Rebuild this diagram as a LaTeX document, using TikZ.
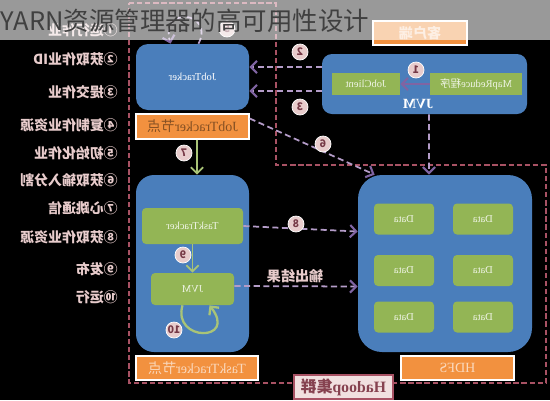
\documentclass[tikz,border=0pt]{standalone}
\usepackage{fontspec}
\usepackage{xcolor}
\usetikzlibrary{arrows.meta}
\setmainfont{Liberation Serif}
\newfontfamily\cjk{Noto Sans CJK SC}
\definecolor{boxblue}{HTML}{4A7EBB}
\definecolor{boxgreen}{HTML}{93B555}
\definecolor{boxorange}{HTML}{F2913F}
\definecolor{framepink}{HTML}{A85264}
\definecolor{dashpurple}{HTML}{B49CC8}
\definecolor{tippurple}{HTML}{8064A2}
\definecolor{listpink}{HTML}{E8CCCC}
\def\px{0.02cm}
\tikzset{
  boxsize/.style 2 args={minimum width=#1*\px,minimum height=#2*\px,inner sep=0pt},
  bluebox/.style={fill=boxblue,text=white,font=\fontsize{6}{7}\selectfont},
  greenbox/.style={fill=boxgreen,rounded corners=4*\px,text=white!85!boxgreen,font=\fontsize{6}{7}\selectfont},
  orangebox/.style={fill=boxorange,draw=white,line width=0.8pt,text=white!65!boxorange,font=\fontsize{8}{9}\selectfont},
  numcirc/.style={circle,fill=listpink,draw=white,line width=0.4pt,minimum size=16*\px,inner sep=0pt,text=framepink!70!black,font=\cjk\bfseries\fontsize{6}{7}\selectfont},
  listitem/.style={anchor=east,inner sep=0pt,text=listpink,font=\cjk\bfseries\fontsize{7.9}{9}\selectfont},
  dasharrow/.style={draw=dashpurple,line width=1pt,dash pattern=on 3.5pt off 2pt,-{Straight Barb[length=3.5pt,width=7pt,color=tippurple,line width=1.2pt]}},
  greenarrow/.style={draw=boxgreen!80!white,line width=1pt,-{Straight Barb[length=3.5pt,width=7pt]}},
}
\begin{document}
\begin{tikzpicture}[x=\px,y=-\px]
  \useasboundingbox (0,0) rectangle (550,400);
  \fill[black] (0,0) rectangle (550,400);
  % cluster frame
  \draw[framepink,line width=1.1pt,dash pattern=on 3pt off 1.6pt] (129,3)--(276,3)--(276,165)--(546,165)--(546,383)--(129,383)--cycle;
  % left list
  \node[listitem] (item1) at (118,30) {\reflectbox{①运行作业}};
  \node[listitem] (item2) at (118,59) {\reflectbox{②获取作业ID}};
  \node[listitem] (item3) at (118,92) {\reflectbox{③提交作业}};
  \node[listitem] (item4) at (118,125) {\reflectbox{④复制作业资源}};
  \node[listitem] (item5) at (118,153) {\reflectbox{⑤初始化作业}};
  \node[listitem] (item6) at (118,180) {\reflectbox{⑥获取输入分割}};
  \node[listitem] (item7) at (118,208) {\reflectbox{⑦心跳通信}};
  \node[listitem] (item8) at (118,237) {\reflectbox{⑧获取作业资源}};
  \node[listitem] (item9) at (118,269) {\reflectbox{⑨发布}};
  \node[listitem] (item10) at (118,297) {\reflectbox{⑩运行}};
  % job tracker side
  \node[bluebox,boxsize={113}{66},rounded corners=12*\px] (jobtracker) at (192.5,77) {\reflectbox{JobTracker}};
  \node[orangebox,boxsize={113}{25},text=boxorange!55!black] (jtlabel) at (192.5,126.5) {\reflectbox{JobTracker{\cjk 节点}}};
  \node[bluebox,boxsize={113}{177},rounded corners=18*\px] (ttbox) at (192.5,263.5) {};
  \node[greenbox,boxsize={101}{36}] (tasktracker) at (192.5,226) {\reflectbox{TaskTracker}};
  \node[greenbox,boxsize={83}{32}] (taskjvm) at (192.5,289) {\reflectbox{JVM}};
  \node[orangebox,boxsize={122}{24}] (ttlabel) at (197,368) {\reflectbox{TaskTracker{\cjk 节点}}};
  % hdfs side
  \node[bluebox,boxsize={174}{177},rounded corners=24*\px] (hdfsbox) at (445,263.5) {};
  \foreach \name/\cx/\cy in {dataa/404/219,datab/483/219,datac/404/270.5,datad/483/270.5,datae/404/317,dataf/483/317}
    \node[greenbox,boxsize={60}{31}] (\name) at (\cx,\cy) {\reflectbox{Data}};
  \node[orangebox,boxsize={113}{24}] (hdfslabel) at (457.5,368) {\reflectbox{HDFS}};
  \node[boxsize={99}{24},fill=listpink!60!white,draw=framepink,line width=0.8pt,text=framepink!80!black,font=\bfseries\fontsize{9}{10}\selectfont] (hadooplabel) at (343.5,387) {\reflectbox{Hadoop{\cjk 集群}}};
  % client side
  \node[orangebox,boxsize={94}{24}] (clientlabel) at (420,33) {\reflectbox{{\cjk\bfseries 客户端}}};
  \node[bluebox,boxsize={205}{60},rounded corners=10*\px] (clientjvm) at (424.5,84) {};
  \node[greenbox,boxsize={68}{22},rounded corners=0pt] (jobclient) at (366,84) {\reflectbox{JobClient}};
  \node[greenbox,boxsize={92}{22},rounded corners=0pt] (mapreduce) at (476,84) {\reflectbox{MapReduce{\cjk 程序}}};
  \node[inner sep=0pt,text=white,font=\bfseries\fontsize{8}{9}\selectfont] (jvmtext) at (418,104) {\reflectbox{JVM}};
  \node[inner sep=0pt,text=listpink,font=\cjk\bfseries\fontsize{8}{9}\selectfont] (resulttext) at (295,276) {\reflectbox{输出结果}};
  % connectors
  \draw[draw=tippurple,line width=1.2pt,-{Straight Barb[length=3.5pt,width=7pt]}] (mapreduce.west) -- (jobclient.east);
  \draw[dasharrow] ([yshift=17*\px]clientjvm.west) -- ([yshift=10*\px]jobtracker.east);
  \draw[dasharrow] ([yshift=-7*\px]clientjvm.west) -- ([yshift=-14*\px]jobtracker.east);
  \draw[dasharrow] ([yshift=8*\px]jtlabel.east) -- ([xshift=17*\px]hdfsbox.north west);
  \draw[dasharrow] ([xshift=4.5*\px]clientjvm.south) -- ([xshift=-16*\px]hdfsbox.north);
  \draw[dasharrow] (tasktracker.east) -- ([yshift=32*\px]hdfsbox.west);
  \draw[dasharrow] ([yshift=3*\px]taskjvm.east) -- ([yshift=-23*\px]hdfsbox.west);
  \draw[dasharrow] ([xshift=6*\px]jobtracker.north) .. controls (215,12) and (160,5) .. ([xshift=-22*\px]jobtracker.north);
  \draw[greenarrow] ([xshift=4.5*\px]jtlabel.south) -- ([xshift=4.5*\px]ttbox.north);
  \draw[greenarrow] (tasktracker.south) -- (taskjvm.north);
  \draw[greenarrow,line width=1.3pt] ([xshift=-10*\px]taskjvm.south) .. controls (172,342) and (238,342) .. ([xshift=17*\px]taskjvm.south);
  % step numbers
  \node[numcirc] (num1) at (416,70) {\reflectbox{1}};
  \node[numcirc] (num2) at (300,52) {\reflectbox{2}};
  \node[numcirc] (num3) at (300,107) {\reflectbox{3}};
  \node[numcirc] (num5) at (227,29) {\reflectbox{5}};
  \node[numcirc] (num6) at (323,144) {\reflectbox{6}};
  \node[numcirc] (num7) at (184,153) {\reflectbox{7}};
  \node[numcirc] (num8) at (296,224) {\reflectbox{8}};
  \node[numcirc] (num9) at (183,255) {\reflectbox{9}};
  \node[numcirc] (num10) at (174,330) {\reflectbox{10}};
  % title band
  \fill[white,fill opacity=0.6] (0,0) rectangle (550,40);
  \node[anchor=west,inner sep=0pt,text=black!75,font=\cjk\fontsize{14.5}{17}\selectfont] (title) at (0,21) {YARN资源管理器的高可用性设计};
\end{tikzpicture}
\end{document}
